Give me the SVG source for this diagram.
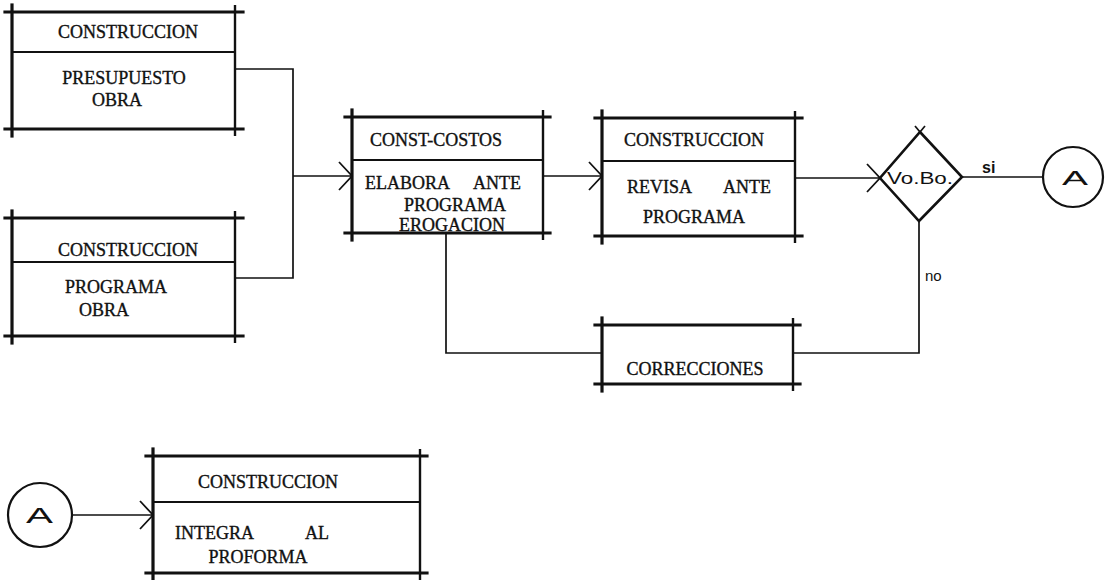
<svg xmlns="http://www.w3.org/2000/svg" width="1113" height="580" viewBox="0 0 1113 580">
<style>
.bg{fill:#fff}
.thick{stroke:#111;stroke-width:3.2;fill:none;stroke-linecap:square}
.mid{stroke:#111;stroke-width:2.4;fill:none}
.thin{stroke:#111;stroke-width:1.8;fill:none}
.con{stroke:#111;stroke-width:1.7;fill:none}
.t{font-family:"Liberation Serif",serif;font-size:18px;fill:#111;stroke:#111;stroke-width:0.35;text-anchor:middle}
.ts{font-family:"Liberation Serif",serif;font-size:18px;fill:#111;stroke:#111;stroke-width:0.35}
.sans{font-family:"Liberation Sans",Arial,sans-serif;fill:#111}
</style>
<rect class="bg" x="0" y="0" width="1113" height="580"/>
<defs>
<marker id="chev" markerWidth="16" markerHeight="30" refX="14" refY="15" orient="auto" markerUnits="userSpaceOnUse">
<path d="M1,1 L14,15 L1,29" fill="none" stroke="#111" stroke-width="1.8"/>
</marker>
</defs>

<g id="connectors">
<polyline class="con" points="235,69 293,69 293,278 235,278"/>
<line class="con" x1="293" y1="176" x2="352" y2="176" marker-end="url(#chev)"/>
<line class="con" x1="543" y1="176" x2="602" y2="176" marker-end="url(#chev)"/>
<line class="con" x1="795" y1="178" x2="880" y2="178" marker-end="url(#chev)"/>
<line class="con" x1="962" y1="177" x2="1043" y2="177"/>
<polyline class="con" points="919,221 919,353 793,353"/>
<polyline class="con" points="602,353 446,353 446,233"/>
<line class="con" x1="72" y1="515" x2="153" y2="515" marker-end="url(#chev)"/>
<text class="sans" x="982" y="173" font-size="16" font-weight="bold">si</text>
<text class="sans" x="925" y="281" font-size="15">no</text>
</g>

<g id="box1">
<line class="thick" x1="5" y1="12" x2="243" y2="12"/>
<line class="thick" x1="5" y1="129" x2="243" y2="129"/>
<line class="thick" x1="12" y1="5" x2="12" y2="136"/>
<line class="mid" x1="235" y1="5" x2="235" y2="136"/>
<line class="thin" x1="12" y1="52" x2="235" y2="52"/>
<text class="t" x="128" y="38">CONSTRUCCION</text>
<text class="t" x="124" y="84">PRESUPUESTO</text>
<text class="t" x="117" y="106">OBRA</text>
</g>

<g id="box2">
<line class="thick" x1="5" y1="218" x2="243" y2="218"/>
<line class="thick" x1="5" y1="336" x2="243" y2="336"/>
<line class="thick" x1="12" y1="211" x2="12" y2="343"/>
<line class="mid" x1="235" y1="211" x2="235" y2="343"/>
<line class="thin" x1="12" y1="262" x2="235" y2="262"/>
<text class="t" x="128" y="256">CONSTRUCCION</text>
<text class="t" x="116" y="293">PROGRAMA</text>
<text class="t" x="104" y="316">OBRA</text>
</g>

<g id="box3">
<line class="thick" x1="345" y1="117" x2="550" y2="117"/>
<line class="thick" x1="345" y1="233" x2="550" y2="233"/>
<line class="thick" x1="352" y1="110" x2="352" y2="240"/>
<line class="mid" x1="543" y1="110" x2="543" y2="240"/>
<line class="thin" x1="352" y1="160" x2="543" y2="160"/>
<text class="t" x="436" y="146">CONST-COSTOS</text>
<text class="ts" x="365" y="189">ELABORA</text>
<text class="ts" x="473" y="189">ANTE</text>
<text class="t" x="455" y="211">PROGRAMA</text>
<text class="t" x="452" y="231">EROGACION</text>
</g>

<g id="box4">
<line class="thick" x1="595" y1="118" x2="802" y2="118"/>
<line class="thick" x1="595" y1="236" x2="802" y2="236"/>
<line class="thick" x1="602" y1="111" x2="602" y2="243"/>
<line class="mid" x1="795" y1="111" x2="795" y2="243"/>
<line class="thin" x1="602" y1="161" x2="795" y2="161"/>
<text class="t" x="694" y="146">CONSTRUCCION</text>
<text class="ts" x="627" y="193">REVISA</text>
<text class="ts" x="723" y="193">ANTE</text>
<text class="t" x="694" y="223">PROGRAMA</text>
</g>

<g id="box5">
<line class="thick" x1="595" y1="325" x2="800" y2="325"/>
<line class="thick" x1="595" y1="384" x2="800" y2="384"/>
<line class="thick" x1="602" y1="318" x2="602" y2="391"/>
<line class="mid" x1="793" y1="318" x2="793" y2="391"/>
<text class="t" x="695" y="375">CORRECCIONES</text>
</g>

<g id="decision">
<polygon points="920,132 962,177 919,221 880,178" fill="none" stroke="#111" stroke-width="2.6" stroke-linejoin="miter"/>
<line class="con" x1="920" y1="132" x2="915" y2="126"/>
<line class="con" x1="920" y1="132" x2="925" y2="126"/>
<text class="sans" x="887" y="184" font-size="16" textLength="66" lengthAdjust="spacingAndGlyphs">Vo.Bo.</text>
</g>

<g id="connectorA1">
<circle cx="1073" cy="177" r="30" fill="none" stroke="#111" stroke-width="2.2"/>
<text class="sans" x="1062" y="185" font-size="21" textLength="26" lengthAdjust="spacingAndGlyphs">A</text>
</g>

<g id="connectorA2">
<circle cx="40" cy="515" r="32" fill="none" stroke="#111" stroke-width="2.2"/>
<text class="sans" x="26" y="523" font-size="22" textLength="27" lengthAdjust="spacingAndGlyphs">A</text>
</g>

<g id="box6">
<line class="thick" x1="146" y1="456" x2="427" y2="456"/>
<line class="thick" x1="146" y1="573" x2="427" y2="573"/>
<line class="thick" x1="153" y1="449" x2="153" y2="580"/>
<line class="mid" x1="420" y1="449" x2="420" y2="580"/>
<line class="thin" x1="153" y1="502" x2="420" y2="502"/>
<text class="t" x="268" y="488">CONSTRUCCION</text>
<text class="ts" x="175" y="539">INTEGRA</text>
<text class="ts" x="305" y="539">AL</text>
<text class="t" x="258" y="563">PROFORMA</text>
</g>
</svg>
